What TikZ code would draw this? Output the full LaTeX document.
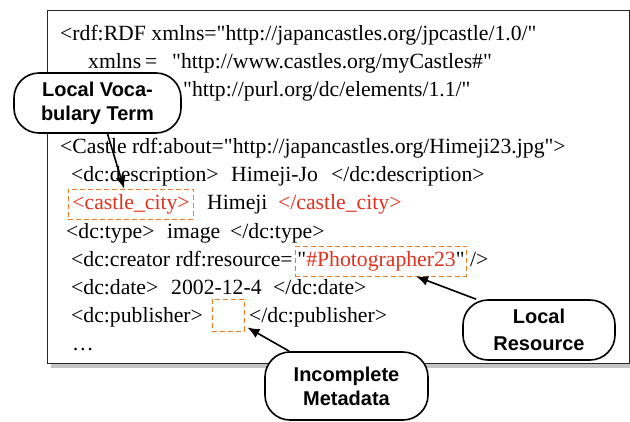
\documentclass[tikz,border=0pt]{standalone}
\usepackage{xcolor}
\usepackage{fontspec}
\setmainfont{Liberation Serif}[Ligatures=TeXOff]
\setsansfont{Liberation Sans}
\usepackage{tikz}
\usetikzlibrary{positioning,arrows.meta,shadows}
\definecolor{tagred}{HTML}{E2311D}
\definecolor{holeorange}{HTML}{EE7B22}

\begin{document}
\begin{tikzpicture}[x=1pt, y=-1pt, align=center,
    code/.style={anchor=base west, inner sep=0pt, font=\fontsize{21.7}{26}\selectfont},
    local/.style={code, text=tagred},
    hole/.style={draw=holeorange, dash pattern=on 5pt off 3pt, line width=0.9pt, text height=15pt, text depth=5pt, inner xsep=2pt, inner ysep=5pt, anchor=base west, font=\fontsize{21.7}{26}\selectfont},
    callout/.style={draw, line width=1.6pt, rounded corners=25pt, fill=white, inner sep=0pt, font=\sffamily\bfseries\fontsize{20}{24}\selectfont},
    pointer/.style={-{Latex[length=12pt,width=10pt]}, line width=1.6pt}]
    \useasboundingbox (0,0) rectangle (630,421);
    \node [draw=black!85, line width=1.3pt, fill=white, drop shadow={shadow xshift=3pt, shadow yshift=-4pt, fill=black!45}, minimum width=582pt, minimum height=353pt, inner sep=0pt, anchor=north west] (listing) at (47,10) {};

    \node [code] (rdf_open) at (60,40) {<rdf:RDF xmlns="http://japancastles.org/jpcastle/1.0/"};
    \node [code] (ns_key) at (88,68) {xmlns};
    \node [code] (ns_eq) at (145,68) {=};
    \node [code] (ns_uri) at (172,68) {"http://www.castles.org/myCastles\#"};
    \node [code] (dc_uri) at (183,96) {"http://purl.org/dc/elements/1.1/"};
    \node [code] (castle_open) at (60,153) {<Castle rdf:about="http://japancastles.org/Himeji23.jpg">};
    \node [code] (desc_open) at (71,181) {<dc:description>};
    \node [code] (desc_value) at (231,181) {Himeji-Jo};
    \node [code] (desc_close) at (331,181) {</dc:description>};
    \node [hole, inner xsep=4pt, text=tagred] (city_tag) at (68,209) {<castle\_city>};
    \node [code] (city_value) at (207,209) {Himeji};
    \node [local] (city_close) at (278,209) {</castle\_city>};
    \node [code] (type_open) at (66,238) {<dc:type>};
    \node [code] (type_value) at (167,238) {image};
    \node [code] (type_close) at (230,238) {</dc:type>};
    \node [code] (creator_open) at (71,266) {<dc:creator rdf:resource=};
    \node [hole] (creator_ref) at (295,266) {"\textcolor{tagred}{\#Photographer23}"};
    \node [code] (creator_close) at (470,266) {/>};
    \node [code] (date_open) at (71,294) {<dc:date>};
    \node [code] (date_value) at (171,294) {2002-12-4};
    \node [code] (date_close) at (273,294) {</dc:date>};
    \node [code] (publisher_open) at (71,322) {<dc:publisher>};
    \node [hole, minimum width=32pt, minimum height=32pt, anchor=center] (publisher_gap) at (228,315) {};
    \node [code] (publisher_close) at (249,322) {</dc:publisher>};
    \node [code] (more) at (72,350) {…};

    \node [callout, minimum width=167pt, minimum height=60pt] (vocab_term) at (97.5,103) {Local Voca-\\bulary Term};
    \node [callout, minimum width=152pt, minimum height=60pt] (local_resource) at (539,330) {Local\\[3pt]Resource};
    \node [callout, minimum width=163pt, minimum height=68pt] (incomplete_meta) at (346.5,386) {Incomplete\\Metadata};

    \draw [pointer] ([xshift=10pt]vocab_term.south) -- ([xshift=-7pt]city_tag.north);
    \draw [pointer] ([xshift=14pt]local_resource.north west) -- ([xshift=35pt]creator_ref.south);
    \draw [pointer] ([xshift=25pt]incomplete_meta.north west) -- ([shift={(3pt,4pt)}]publisher_gap.south east);
\end{tikzpicture}
\end{document}
